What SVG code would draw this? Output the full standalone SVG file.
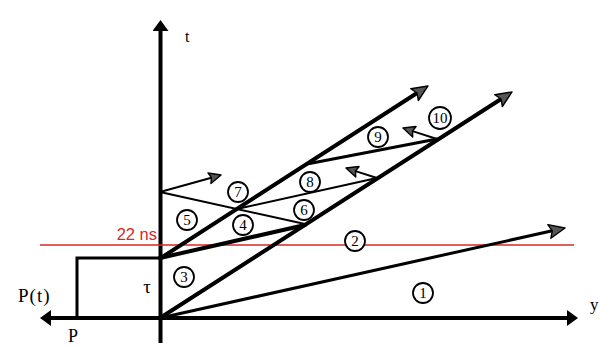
<svg xmlns="http://www.w3.org/2000/svg" width="600" height="347" viewBox="0 0 600 347">
  <style>
    .axis { stroke: #000; stroke-width: 4; fill: none; }
    .thick { stroke: #000; stroke-width: 4; fill: none; stroke-linecap: round; }
    .mid { stroke: #000; stroke-width: 3; fill: none; stroke-linecap: round; }
    .thin { stroke: #000; stroke-width: 2; fill: none; stroke-linecap: round; }
    .ser { font-family: "Liberation Serif", "Times New Roman", serif; fill: #000; }
    .num circle { fill: #fff; stroke: #000; stroke-width: 1.8; }
    .num text { font-family: "Liberation Serif", "Times New Roman", serif; font-size: 15px; text-anchor: middle; fill: #000; }
  </style>
  <defs>
    <marker id="axhead" viewBox="0 0 11 16" markerWidth="11" markerHeight="16" refX="0" refY="8" orient="auto-start-reverse" markerUnits="userSpaceOnUse">
      <path d="M0,0 L11,8 L0,16 z" fill="#000"/>
    </marker>
    <marker id="wa" viewBox="-1 -1 18 16" markerWidth="18" markerHeight="16" refX="3" refY="7" orient="auto" markerUnits="userSpaceOnUse">
      <path d="M0,0 L16,7 L0,14 L3,7 z" fill="#555" stroke="#000" stroke-width="1.4" stroke-linejoin="round"/>
    </marker>
    <marker id="wa2" viewBox="-1 -1 14 13" markerWidth="14" markerHeight="13" refX="2" refY="5.5" orient="auto" markerUnits="userSpaceOnUse">
      <path d="M0,0 L12,5.5 L0,11 L2,5.5 z" fill="#555" stroke="#000" stroke-width="1.4" stroke-linejoin="round"/>
    </marker>
  </defs>
  <rect width="600" height="347" fill="#fff"/>

  <g id="axes">
    <line class="axis" x1="160.5" y1="343" x2="160.5" y2="31" marker-end="url(#axhead)"/>
    <line class="axis" x1="51" y1="318" x2="567" y2="318" marker-start="url(#axhead)" marker-end="url(#axhead)"/>
    <text class="ser" x="185" y="42" font-size="16">t</text>
    <text class="ser" x="590" y="310" font-size="17">y</text>
    <text class="ser" x="18" y="302" font-size="19" letter-spacing="1">P(t)</text>
    <text class="ser" x="68" y="342" font-size="18">P</text>
  </g>

  <g id="pulse">
    <polyline class="mid" points="77,318 77,258 160,258" stroke-linecap="butt"/>
    <text class="ser" x="147" y="293" font-size="19" text-anchor="middle">τ</text>
  </g>

  <g id="marker-22ns">
    <line x1="40" y1="245" x2="574" y2="245" stroke="#d7262a" stroke-width="1.5"/>
    <text x="157" y="240" font-family="Liberation Sans, Arial, sans-serif" font-size="16.5" fill="#d7262a" text-anchor="end">22 ns</text>
  </g>

  <g id="connectors">
    <line class="mid" x1="160" y1="318" x2="552.3" y2="230.8" marker-end="url(#wa)"/>
    <line class="thick" x1="160" y1="318" x2="501.1" y2="99" marker-end="url(#wa)"/>
    <line class="thick" x1="160" y1="258.5" x2="417.1" y2="93" marker-end="url(#wa)"/>
    <line class="thick" x1="160" y1="258" x2="305" y2="225"/>
    <line class="thin" x1="160" y1="192" x2="305" y2="224"/>
    <line class="thin" x1="160" y1="192" x2="211.4" y2="177.7" marker-end="url(#wa2)"/>
    <line class="thin" x1="237" y1="209" x2="377" y2="178"/>
    <line class="thin" x1="377" y1="178" x2="355.5" y2="171.1" marker-end="url(#wa2)"/>
    <line class="mid" x1="307" y1="164" x2="437" y2="139" stroke-width="2.5"/>
    <line class="thin" x1="437" y1="139" x2="412.5" y2="131.1" marker-end="url(#wa2)"/>
  </g>

  <g id="n1" class="num"><circle cx="423" cy="293" r="10"/><text x="423" y="298">1</text></g>
  <g id="n2" class="num"><circle cx="355" cy="241" r="10"/><text x="355" y="246">2</text></g>
  <g id="n3" class="num"><circle cx="184" cy="277" r="10"/><text x="184" y="282">3</text></g>
  <g id="n4" class="num"><circle cx="243" cy="225" r="10"/><text x="243" y="230">4</text></g>
  <g id="n5" class="num"><circle cx="187" cy="220" r="10"/><text x="187" y="225">5</text></g>
  <g id="n6" class="num"><circle cx="304" cy="210" r="10"/><text x="304" y="215">6</text></g>
  <g id="n7" class="num"><circle cx="238" cy="192" r="10"/><text x="238" y="197">7</text></g>
  <g id="n8" class="num"><circle cx="310" cy="182" r="10"/><text x="310" y="187">8</text></g>
  <g id="n9" class="num"><circle cx="378" cy="137" r="10"/><text x="378" y="142">9</text></g>
  <g id="n10" class="num"><circle cx="440" cy="118" r="11"/><text x="440" y="123">10</text></g>
</svg>
